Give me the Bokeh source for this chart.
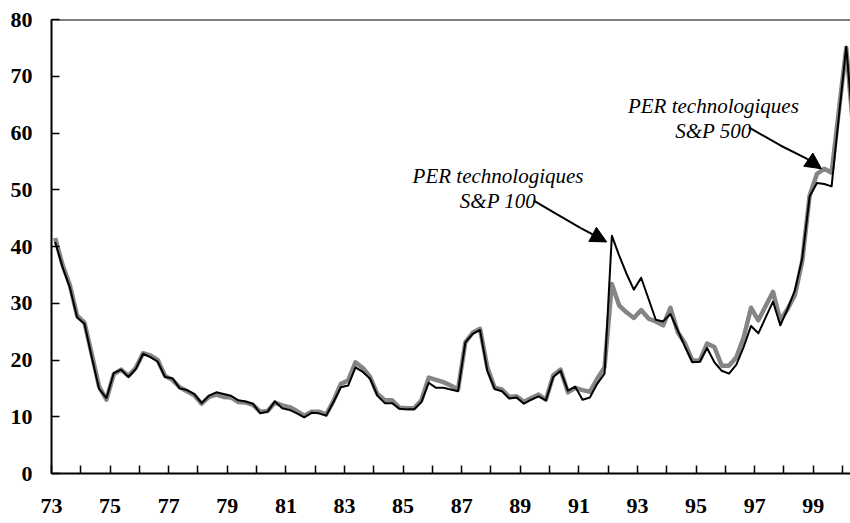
from bokeh.plotting import figure
from bokeh.models import FixedTicker, Span, Arrow, NormalHead, Range1d
from bokeh.core.properties import value
from bokeh.embed import file_html
from bokeh.resources import INLINE

# Quarterly PER, first quarter 1973 onwards (two-digit years)
first_year = 73
per_sp100_tech = [
    40.8, 36.4, 32.8, 27.5, 26.4, 20.5, 14.9, 13.3, 17.7, 18.3,
    17.0, 18.4, 21.1, 20.5, 19.7, 17.0, 16.8, 15.0, 14.7, 14.0,
    12.4, 13.7, 14.3, 14.0, 13.7, 12.9, 12.7, 12.3, 10.6, 10.9,
    12.7, 11.5, 11.2, 10.6, 9.9, 10.7, 10.6, 10.2, 12.6, 15.2,
    15.5, 18.7, 17.9, 16.7, 13.7, 12.4, 12.4, 11.4, 11.3, 11.3,
    12.6, 16.0, 15.1, 15.1, 14.8, 14.5, 23.1, 24.6, 25.3, 18.1,
    14.9, 14.5, 13.2, 13.4, 12.3, 13.0, 13.6, 12.9, 17.0, 18.1,
    14.6, 15.3, 13.0, 13.4, 15.8, 17.6, 41.9, 38.4, 35.2, 32.4,
    34.5, 30.8, 27.1, 26.8, 28.1, 25.2, 22.3, 19.6, 19.7, 22.1,
    19.6, 18.1, 17.6, 19.2, 22.3, 26.0, 24.7, 27.5, 30.3, 26.1,
    29.0, 32.3, 38.0, 48.8, 51.2, 51.0, 50.6, 63.0, 75.2, 60.0,
]
per_sp500_tech = [
    41.5, 36.8, 33.2, 27.8, 26.6, 21.0, 15.3, 13.0, 17.5, 18.3,
    17.2, 18.6, 21.2, 20.8, 20.0, 17.2, 16.5, 15.2, 14.5, 13.8,
    12.3, 13.5, 13.9, 13.5, 13.4, 12.6, 12.5, 12.1, 10.9, 11.0,
    12.5, 12.0, 11.7, 11.0, 10.2, 10.9, 10.9, 10.4, 12.8, 15.8,
    16.4, 19.6, 18.6, 17.0, 14.0, 12.9, 12.9, 11.6, 11.5, 11.5,
    12.9, 16.9, 16.5, 16.1, 15.5, 14.8, 23.1, 24.8, 25.5, 18.7,
    15.1, 14.8, 13.5, 13.6, 12.6, 13.3, 13.9, 13.0, 17.3, 18.3,
    14.3, 15.1, 14.7, 14.4, 16.7, 18.7, 33.4, 29.6, 28.4, 27.4,
    28.8, 27.3, 26.8, 26.1, 29.2, 24.9, 22.9, 19.9, 19.9, 22.9,
    22.3, 19.0, 19.0, 20.5, 24.0, 29.2, 27.0, 29.5, 32.0, 27.0,
    29.0, 31.5, 37.5, 49.0, 52.8, 53.7, 53.0, 64.0, 75.0, 60.0,
]
quarters = [first_year + 0.125 + 0.25 * i for i in range(len(per_sp100_tech))]

label_years = list(range(73, 100, 2))
minor_years = list(range(74, 101, 2))
y_ticks = [0, 10, 20, 30, 40, 50, 60, 70, 80]

annot1 = ["PER technologiques", "S&P 100"]
annot2 = ["PER technologiques", "S&P 500"]

p = figure(width=850, height=523, output_backend="svg", toolbar_location=None,
           x_range=Range1d(73, 100.27), y_range=Range1d(0, 80),
           min_border_left=51, min_border_right=0, min_border_top=19, min_border_bottom=50)
p.background_fill_color = "white"
p.border_fill_color = "white"
p.outline_line_color = None
p.xgrid.visible = False
p.ygrid.visible = False

p.line(quarters, per_sp500_tech, line_color="#858585", line_width=4.5, line_join="round")
p.line(quarters, per_sp100_tech, line_color="black", line_width=2, line_join="round")

p.add_layout(Span(location=80, dimension="width", line_color="black", line_width=2))

xa = p.xaxis[0]
xa.ticker = FixedTicker(ticks=label_years, minor_ticks=minor_years)
xa.axis_line_width = 2
xa.axis_line_color = "black"
xa.major_tick_in = 8
xa.major_tick_out = 0
xa.minor_tick_in = 8
xa.minor_tick_out = 0
xa.major_tick_line_width = 1.5
xa.minor_tick_line_width = 1.5
xa.major_tick_line_color = "black"
xa.minor_tick_line_color = "black"
xa.major_label_text_font = "Liberation Serif"
xa.major_label_text_font_size = "22px"
xa.major_label_text_font_style = "bold"
xa.major_label_text_color = "black"
xa.major_label_standoff = 25

ya = p.yaxis[0]
ya.ticker = FixedTicker(ticks=y_ticks, minor_ticks=[])
ya.axis_line_width = 2
ya.axis_line_color = "black"
ya.major_tick_in = 8
ya.major_tick_out = 0
ya.major_tick_line_width = 1.5
ya.major_tick_line_color = "black"
ya.major_label_text_font = "Liberation Serif"
ya.major_label_text_font_size = "22px"
ya.major_label_text_font_style = "bold"
ya.major_label_text_color = "black"
ya.major_label_standoff = 19

# annotations
p.text(x=[88.24, 88.24], y=[52.5, 48.1], text=annot1,
       text_font=value("Liberation Serif"), text_font_style="italic",
       text_font_size="21px", text_align="center", text_baseline="alphabetic",
       text_color="black")
p.text(x=[95.59, 95.59], y=[64.8, 60.3], text=annot2,
       text_font=value("Liberation Serif"), text_font_style="italic",
       text_font_size="21px", text_align="center", text_baseline="alphabetic",
       text_color="black")

arrow1_x = [89.46, 90.14, 91.05]
arrow1_y = [48.1, 46.0, 43.3]
p.line(arrow1_x, arrow1_y, line_color="black", line_width=2)
p.add_layout(Arrow(end=NormalHead(size=16, fill_color="black", line_color="black"),
                   x_start=91.05, y_start=43.3, x_end=91.95, y_end=40.8,
                   line_color="black", line_width=2))

arrow2_x = [96.80, 97.88, 98.79]
arrow2_y = [61.0, 57.8, 55.45]
p.line(arrow2_x, arrow2_y, line_color="black", line_width=2)
p.add_layout(Arrow(end=NormalHead(size=16, fill_color="black", line_color="black"),
                   x_start=98.79, y_start=55.45, x_end=99.28, y_end=53.7,
                   line_color="black", line_width=2))

open("out.html", "w").write(file_html(p, INLINE))
